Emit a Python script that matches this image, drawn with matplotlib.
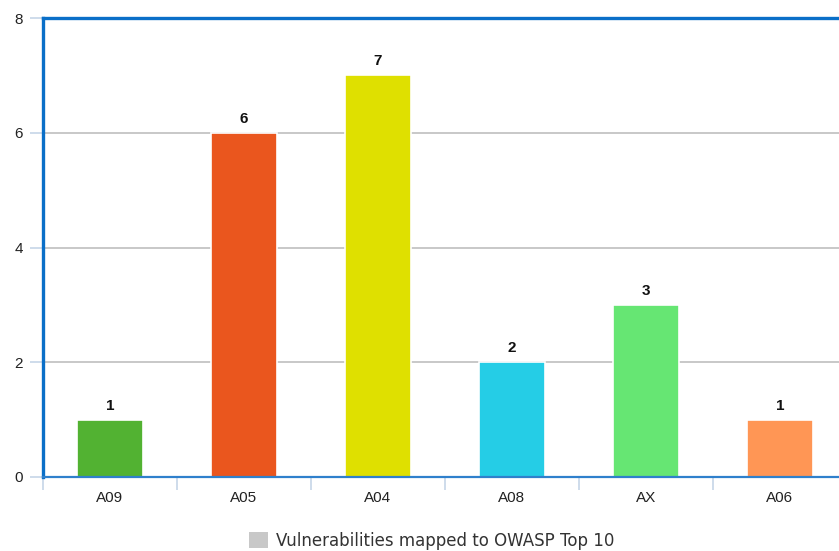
import numpy as np
import matplotlib.pyplot as plt
from matplotlib.patches import Patch

categories = ['A09', 'A05', 'A04', 'A08', 'AX', 'A06']
counts = [1, 6, 7, 2, 3, 1]
bar_colors = ['#52b232', '#ea561e', '#dfe000', '#25cde6', '#66e673', '#ff9655']
legend_label = 'Vulnerabilities mapped to OWASP Top 10'

plt.rcParams['font.family'] = ['Liberation Sans', 'DejaVu Sans']

fig = plt.figure(figsize=(8.39, 5.51), dpi=100)
# axes run a little past the right edge of the figure
ax = fig.add_axes([43 / 839, 74 / 551, 804 / 839, 459 / 551])

x = np.arange(len(categories))
bars = ax.bar(x, counts, width=0.49, color=bar_colors, edgecolor='white',
              linewidth=1.2, zorder=3)
for rect, v in zip(bars, counts):
    ax.text(rect.get_x() + rect.get_width() / 2, v + 0.12, str(v),
            ha='center', va='bottom', fontsize=11, fontweight='bold',
            color='#111111')

ax.set_xlim(-0.5, len(categories) - 0.5)
ax.set_ylim(0, 8)
ax.set_yticks([0, 2, 4, 6, 8])
ax.set_xticks(x)
ax.set_xticklabels(categories)
ax.set_xticks(np.arange(len(categories)) - 0.5, minor=True)

ax.tick_params(axis='y', length=9.5, width=1.2, color='#c6d6e8', pad=5,
               labelsize=11, labelcolor='#222222')
ax.tick_params(axis='x', which='major', length=0, pad=10, labelsize=11,
               labelcolor='#222222')
ax.tick_params(axis='x', which='minor', length=9.5, width=1.2,
               color='#c6d6e8')

ax.yaxis.grid(True, color='#c8c8c8', linewidth=1.4, zorder=0)
ax.set_axisbelow(True)

for side in ['left', 'top', 'right']:
    ax.spines[side].set_color('#0a6fc8')
    ax.spines[side].set_linewidth(2.4)
ax.spines['bottom'].set_color('#2f80cc')
ax.spines['bottom'].set_linewidth(1.6)
for s in ax.spines.values():
    s.set_zorder(4)

handle = Patch(facecolor='#c8c8c8', edgecolor='none')
fig.legend([handle], [legend_label], loc='center', bbox_to_anchor=(432 / 839, 1 - 541 / 551),
           frameon=False, handlelength=1.1, handleheight=1.1,
           handletextpad=0.5, labelcolor='#333333',
           prop={'family': 'DejaVu Sans', 'size': 12})

fig.savefig('out.png', dpi=100)
